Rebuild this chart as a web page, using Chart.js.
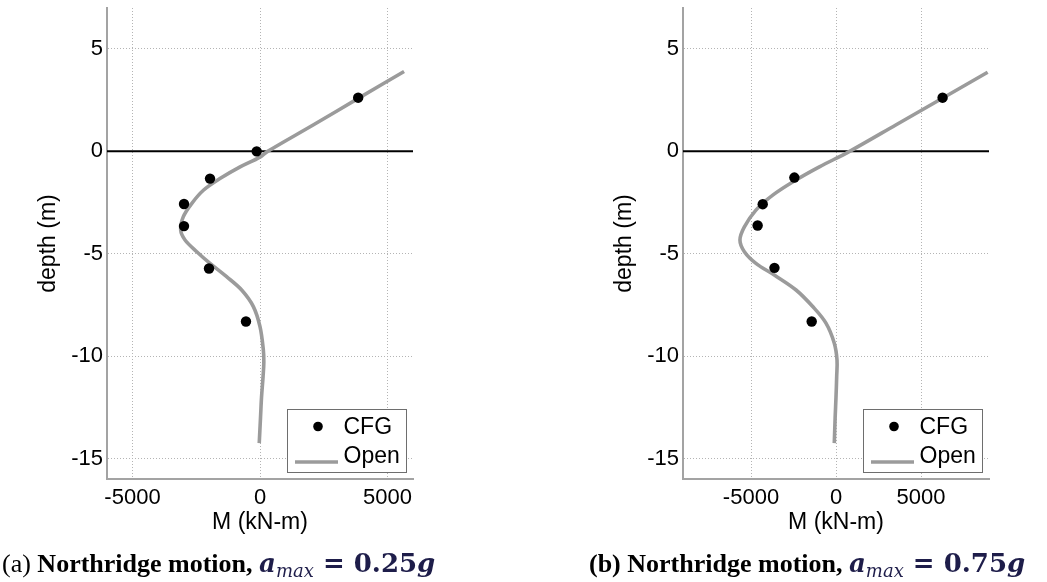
<!DOCTYPE html>
<html><head><meta charset="utf-8">
<script src="https://cdn.jsdelivr.net/npm/chart.js@4.4.1/dist/chart.umd.min.js"></script>
<style>
html,body{margin:0;padding:0;background:#fff;}
#wrap{position:relative;width:1047px;height:582px;overflow:hidden;background:#fff;}
canvas{position:absolute;top:0;}
#cL{left:0;}
#cR{left:523px;}
.cap{position:absolute;top:548px;font-family:"Liberation Serif","Times New Roman",serif;font-size:26px;line-height:30px;white-space:nowrap;color:#000;}
.cap b{font-weight:bold;}
.math{font-family:"DejaVu Serif",serif;font-weight:bold;color:#1e1d4a;font-size:26px;}
.math i{font-style:italic;}
.math sub{font-size:18px;font-style:italic;font-weight:normal;vertical-align:-5px;line-height:0;}
</style></head>
<body><div id="wrap">
<canvas id="cL" width="523" height="582"></canvas>
<canvas id="cR" width="524" height="582"></canvas>
<div class="cap" style="left:2px">(a) <b>Northridge motion,</b> <span class="math"><i>a</i><sub>max</sub> = 0.25<i>g</i></span></div>
<div class="cap" style="left:589px"><b>(b) Northridge motion,</b> <span class="math"><i>a</i><sub>max</sub> = 0.75<i>g</i></span></div>
</div>
<script>
// ---- data (a) a_max = 0.25g ----
const leftCfgM     = [3850, -130, -1960, -2980, -2980, -2000, -550];
const leftCfgDepth = [2.62, 0, -1.33, -2.57, -3.65, -5.72, -8.31];
const leftOpenM     = [5650, 3870, 2100, 300, 0, -780, -1570, -2220, -2680, -3010, -3110, -2940, -2480, -1960, -1310, -720, -260, 0, 130, 150, 120, 60, 20, -30];
const leftOpenDepth = [3.9, 2.6, 1.3, 0, -0.28, -0.76, -1.33, -1.9, -2.55, -3.2, -3.85, -4.33, -4.9, -5.47, -6.12, -6.77, -7.58, -8.56, -9.69, -10.3, -11, -12, -13, -14.25];
const leftXLimits = [-6000, 6000];

// ---- data (b) a_max = 0.75g ----
const rightCfgM     = [6270, -2450, -4310, -4610, -3620, -1430];
const rightCfgDepth = [2.62, -1.28, -2.58, -3.62, -5.69, -8.31];
const rightOpenM     = [8920, 6310, 3540, 800, -980, -2350, -3720, -4710, -5390, -5650, -5390, -4710, -3630, -2350, -1370, -590, -100, 60, 40, 0, -50, -100];
const rightOpenDepth = [3.86, 2.62, 1.3, 0, -0.76, -1.4, -2.14, -2.87, -3.69, -4.33, -4.9, -5.47, -6.04, -6.77, -7.58, -8.39, -9.37, -10.2, -11, -12, -13, -14.25];
const rightXLimits = [-9000, 9000];

const yLimits = [-16, 7];
const xTicks = [-5000, 0, 5000];
const yTicks = [-15, -10, -5, 0, 5];
const seriesLabels = ['CFG', 'Open'];
const xTitle = 'M (kN-m)';
const yTitle = 'depth (m)';

const SANS = '"Liberation Sans", Arial, Helvetica, sans-serif';

function pts(xs, ys) { return xs.map((v, i) => ({x: v, y: ys[i]})); }

const insideLegend = {
  id: 'insideLegend',
  afterDatasetsDraw(chart) {
    const ctx = chart.ctx, ca = chart.chartArea;
    const w = 120, h = 64;
    const L = ca.right - 6 - w, T = ca.bottom - 6 - h;
    ctx.save();
    ctx.fillStyle = '#fff';
    ctx.fillRect(L, T, w, h);
    ctx.strokeStyle = '#6e6e6e';
    ctx.lineWidth = 1;
    ctx.strokeRect(L + 0.5, T + 0.5, w - 1, h - 1);
    const ds = chart.data.datasets;
    ctx.fillStyle = ds[0].backgroundColor;
    ctx.beginPath();
    ctx.arc(L + 31, T + 17.5, 4.8, 0, Math.PI * 2);
    ctx.fill();
    ctx.strokeStyle = ds[1].borderColor;
    ctx.lineWidth = 3.5;
    ctx.beginPath();
    ctx.moveTo(L + 8, T + 53);
    ctx.lineTo(L + 51, T + 53);
    ctx.stroke();
    ctx.fillStyle = '#000';
    ctx.font = '23px ' + SANS;
    ctx.textBaseline = 'middle';
    ctx.textAlign = 'left';
    ctx.fillText(ds[0].label, L + 56.5, T + 19);
    ctx.fillText(ds[1].label, L + 56.5, T + 48);
    ctx.restore();
  }
};

function makePanel(id, cfgM, cfgD, openM, openD, xLim, pad, yW) {
  new Chart(document.getElementById(id), {
    type: 'scatter',
    data: {
      datasets: [
        {label: seriesLabels[0], data: pts(cfgM, cfgD), backgroundColor: '#000', borderColor: '#000',
         pointRadius: 5.2, pointBorderWidth: 0, showLine: false},
        {label: seriesLabels[1], data: pts(openM, openD), borderColor: '#9b9b9b', backgroundColor: '#9b9b9b',
         borderWidth: 3.6, pointRadius: 0, showLine: true, tension: 0.35},
        {label: 'zero', data: pts(xLim, [0, 0]), borderColor: '#000', borderWidth: 2,
         pointRadius: 0, showLine: true}
      ]
    },
    options: {
      responsive: false,
      animation: false,
      events: [],
      layout: {padding: pad},
      plugins: {legend: {display: false}, tooltip: {enabled: false}},
      scales: {
        x: {
          type: 'linear', position: 'bottom', min: xLim[0], max: xLim[1],
          afterBuildTicks(s) { s.ticks = xTicks.map(v => ({value: v})); },
          ticks: {padding: 6, color: '#000', maxRotation: 0, autoSkip: false,
                  font: {family: SANS, size: 22}, callback: v => String(v)},
          grid: {color: '#b4b4b4', lineWidth: 1, drawTicks: false},
          border: {color: '#a3a3a3', width: 2, dash: [1, 2]},
          title: {display: true, text: xTitle, color: '#000', padding: 0, font: {family: SANS, size: 23}},
          afterFit(s) { s.height = 57.8; s.paddingLeft = 0; s.paddingRight = 0; }
        },
        y: {
          type: 'linear', position: 'left', min: yLimits[0], max: yLimits[1],
          afterBuildTicks(s) { s.ticks = yTicks.map(v => ({value: v})); },
          ticks: {padding: 4, color: '#000', autoSkip: false,
                  font: {family: SANS, size: 22}, callback: v => String(v)},
          grid: {color: '#b4b4b4', lineWidth: 1, drawTicks: false},
          border: {color: '#a3a3a3', width: 2, dash: [1, 2]},
          title: {display: true, text: yTitle, color: '#000', padding: 0, font: {family: SANS, size: 23}},
          afterFit(s) { s.width = yW; s.paddingTop = 0; s.paddingBottom = 0; }
        }
      }
    },
    plugins: [insideLegend]
  });
}

makePanel('cL', leftCfgM, leftCfgDepth, leftOpenM, leftOpenDepth, leftXLimits,
  {left: 35, top: 8, right: 110, bottom: 45.2}, 72);
makePanel('cR', rightCfgM, rightCfgDepth, rightOpenM, rightOpenDepth, rightXLimits,
  {left: 88.2, top: 8, right: 58, bottom: 45.2}, 71.8);
</script>
</body></html>
